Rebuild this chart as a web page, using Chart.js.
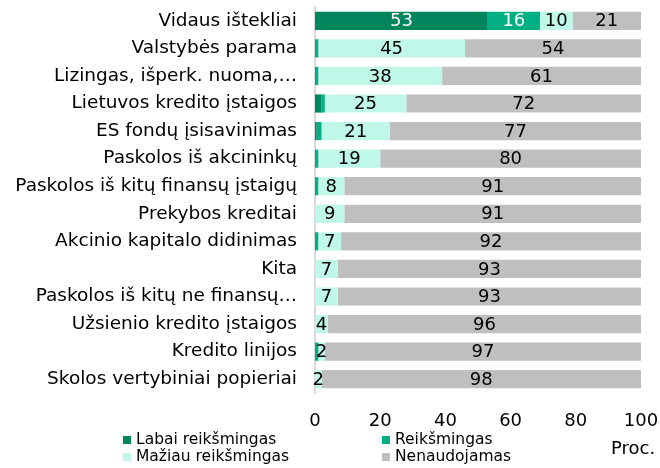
<!DOCTYPE html>
<html>
<head>
<meta charset="utf-8">
<script src="https://cdn.jsdelivr.net/npm/chart.js@4"></script>
<style>
  body { margin: 0; background: #fff; }
  canvas { display: block; }
</style>
</head>
<body>
<canvas id="finChart" width="660" height="468"></canvas>
<script>
const categories = [
    "Vidaus ištekliai",
    "Valstybės parama",
    "Lizingas, išperk. nuoma,…",
    "Lietuvos kredito įstaigos",
    "ES fondų įsisavinimas",
    "Paskolos iš akcininkų",
    "Paskolos iš kitų finansų įstaigų",
    "Prekybos kreditai",
    "Akcinio kapitalo didinimas",
    "Kita",
    "Paskolos iš kitų ne finansų…",
    "Užsienio kredito įstaigos",
    "Kredito linijos",
    "Skolos vertybiniai popieriai"
]

const seriesNames = ["Labai reikšmingas", "Reikšmingas", "Mažiau reikšmingas", "Nenaudojamas"]

const labaiReiksmingas = [53, 0, 0, 2, 0.5, 0, 0, 0, 0, 0, 0, 0, 0, 0]
const reiksmingas = [16, 1, 1, 1, 1.5, 1, 1, 0, 1, 0, 0, 0, 1, 0]
const maziauReiksmingas = [10, 45, 38, 25, 21, 19, 8, 9, 7, 7, 7, 4, 2, 2]
const nenaudojamas = [21, 54, 61, 72, 77, 80, 91, 91, 92, 93, 93, 96, 97, 98]

const xTicks = [0, 20, 40, 60, 80, 100]
const unitLabel = "Proc."

const colors = ["#00855c", "#00b082", "#bff7e8", "#bfbfbf"]
const labelColors = ["#ffffff", "#ffffff", "#000000", "#000000"]
// smallest value that gets a number on the bar
const labelMin = [10, 10, 1.5, 1.5]

const font = "DejaVu Sans"

const barLabels = {
    id: "barLabels",
    afterDatasetsDraw(chart) {
        const c = chart.ctx
        c.save()
        c.font = "18px '" + font + "'"
        c.textAlign = "center"
        c.textBaseline = "middle"
        chart.data.datasets.forEach((ds, i) => {
            const meta = chart.getDatasetMeta(i)
            meta.data.forEach((bar, j) => {
                const v = ds.data[j]
                if (v < labelMin[i]) return
                const p = bar.getCenterPoint()
                c.fillStyle = labelColors[i]
                c.fillText(Math.round(v), p.x, p.y + 1)
            })
        })
        c.restore()
    }
}

const sideLegend = {
    id: "sideLegend",
    afterDraw(chart) {
        const c = chart.ctx
        const cols = [123, 382],
            rows = [440, 457]
        c.save()
        c.font = "15.5px '" + font + "'"
        c.textBaseline = "middle"
        c.textAlign = "left"
        seriesNames.forEach((name, i) => {
            const x = cols[i % 2], y = rows[Math.floor(i / 2)]
            c.fillStyle = colors[i]
            c.fillRect(x, y - 4, 8, 8)
            c.fillStyle = "#000"
            c.fillText(name, x + 13, y)
        })
        c.font = "18px '" + font + "'"
        c.fillText(unitLabel, 611, 449)
        c.restore()
    }
}

const data = {
    labels: categories,
    datasets: [labaiReiksmingas, reiksmingas, maziauReiksmingas, nenaudojamas].map((d, i) => ({
        label: seriesNames[i],
        data: d,
        backgroundColor: colors[i],
        categoryPercentage: 0.66,
        barPercentage: 1
    }))
}

const config = {
    type: "bar",
    data: data,
    options: {
        indexAxis: "y",
        responsive: false,
        animation: false,
        layout: {
            padding: { top: 7, right: 19, left: 0, bottom: 0 }
        },
        plugins: {
            legend: { display: false },
            tooltip: { enabled: false }
        },
        scales: {
            x: {
                stacked: true,
                min: 0,
                max: 100,
                afterBuildTicks: (scale) => {
                    scale.ticks = xTicks.map(v => ({ value: v }))
                },
                afterFit: (scale) => {
                    scale.height = 75
                    scale.paddingLeft = 0
                    scale.paddingRight = 0
                },
                grid: { display: false },
                border: { display: false },
                ticks: {
                    color: "#000",
                    padding: 10,
                    font: { family: font, size: 18 }
                }
            },
            y: {
                stacked: true,
                afterFit: (scale) => {
                    scale.width = 315
                    scale.paddingTop = 0
                    scale.paddingBottom = 0
                },
                grid: { display: false },
                border: { display: true, color: "#d9d9d9", width: 2 },
                ticks: {
                    color: "#000",
                    padding: 10,
                    autoSkip: false,
                    font: { family: font, size: 18.5 }
                }
            }
        }
    },
    plugins: [barLabels, sideLegend]
}

new Chart(document.getElementById("finChart"), config)
</script>
</body>
</html>
